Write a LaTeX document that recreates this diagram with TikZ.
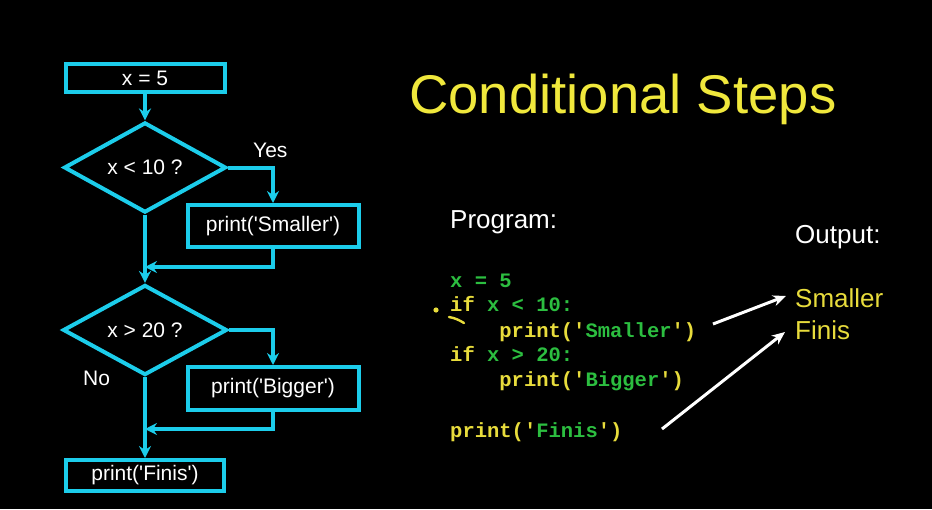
\documentclass[tikz,border=0pt]{standalone}
\usepackage{fontspec}
\setmainfont{Liberation Sans}
\newfontfamily\codefont{Liberation Mono}
\usetikzlibrary{shapes.geometric,arrows.meta}
\definecolor{flowcyan}{RGB}{28,205,235}
\definecolor{titleyellow}{RGB}{240,232,60}
\definecolor{codeyellow}{RGB}{232,220,60}
\definecolor{codegreen}{RGB}{44,190,64}
\newcommand{\myq}{\textquotesingle}
\newcommand{\kw}[1]{{\color{codeyellow}#1}}
\newcommand{\vl}[1]{{\color{codegreen}#1}}
\begin{document}
\begin{tikzpicture}[x=1pt,y=-1pt,
  flowline/.style={draw=flowcyan,line width=4pt},
  flowarrow/.style={flowline,-{Stealth[length=12pt,width=12pt,inset=4pt]}},
  stepbox/.style={flowline,rectangle,inner sep=0pt,text=white,font=\fontsize{21}{24}\selectfont},
  decision/.style={flowline,diamond,inner sep=0pt,text=white,font=\fontsize{21}{24}\selectfont},
  flowlabel/.style={text=white,font=\fontsize{21}{24}\selectfont,anchor=base west,inner sep=0pt},
  codeline/.style={font=\codefont\bfseries\fontsize{20.5}{24}\selectfont,anchor=base west,inner sep=0pt},
  heading/.style={text=white,font=\fontsize{26}{30}\selectfont,anchor=base west,inner sep=0pt},
  outtext/.style={text=codeyellow,font=\fontsize{26}{30}\selectfont,anchor=base west,inner sep=0pt},
  pointer/.style={draw=white,line width=3pt,-{Stealth[length=13pt,width=11pt]}}]
% background
\fill[black] (0,0) rectangle (932,509);
\useasboundingbox (0,0) rectangle (932,509);

% flowchart
\node[stepbox,minimum width=159pt,minimum height=28pt] (xset) at (145,78) {x = 5};
\node[decision,minimum width=162pt,minimum height=71pt] (lt) at (145,167.5) {x < 10 ?};
\node[stepbox,minimum width=171pt,minimum height=42pt] (small) at (273,226) {print(\myq Smaller\myq)};
\node[decision,minimum width=164pt,minimum height=70pt] (gt) at (145,330) {x > 20 ?};
\node[stepbox,minimum width=171pt,minimum height=43pt] (big) at (273,388.5) {print(\myq Bigger\myq)};
\node[stepbox,minimum width=158pt,minimum height=31pt] (fin) at (145,475.5) {print(\myq Finis\myq)};
\coordinate (join1) at (145,267);
\coordinate (join2) at (145,429);

\draw[flowarrow] (xset.south) -- (lt.north);
\draw[flowarrow] (lt.east) -| (small.north);
\draw[flowarrow] (small.south) |- (join1);
\draw[flowarrow] (lt.south) -- (gt.north);
\draw[flowarrow] (gt.east) -| (big.north);
\draw[flowarrow] (big.south) |- (join2);
\draw[flowarrow] (gt.south) -- (fin.north);

\node[flowlabel] (yes) at (253,157) {Yes};
\node[flowlabel] (no) at (83,385) {No};

% title
\node[text=titleyellow,font=\fontsize{54.5}{60}\selectfont,anchor=base west,inner sep=0pt] (title) at (409,113) {Conditional Steps};

% program listing
\node[heading] (prog) at (450,228) {Program:};
\node[codeline] (c1) at (450,287) {\vl{x = 5}};
\node[codeline] (c2) at (450,311) {\kw{if} \vl{x < 10:}};
\node[codeline] (c3) at (450,337) {\phantom{xxxx}\kw{print(\myq}\vl{Smaller}\kw{\myq)}};
\node[codeline] (c4) at (450,361) {\kw{if} \vl{x > 20:}};
\node[codeline] (c5) at (450,386) {\phantom{xxxx}\kw{print(\myq}\vl{Bigger}\kw{\myq)}};
\node[codeline] (c6) at (450,437) {\kw{print(\myq}\vl{Finis}\kw{\myq)}};

% pen marks next to the first if
\fill[codeyellow] (436,310) circle (2.6pt);
\draw[codeyellow,line width=2.4pt,line cap=round] (449,317) .. controls (455,318) and (459,320) .. (464,323);

% output column
\node[heading] (outhead) at (795,243) {Output:};
\node[outtext] (osmall) at (795,307) {Smaller};
\node[outtext] (ofin) at (795,339) {Finis};

\coordinate (from1) at (713,324);
\coordinate (to1) at (786,296);
\coordinate (from2) at (662,429);
\coordinate (to2) at (785,332);
\draw[pointer] (from1) -- (to1);
\draw[pointer] (from2) -- (to2);
\end{tikzpicture}
\end{document}
